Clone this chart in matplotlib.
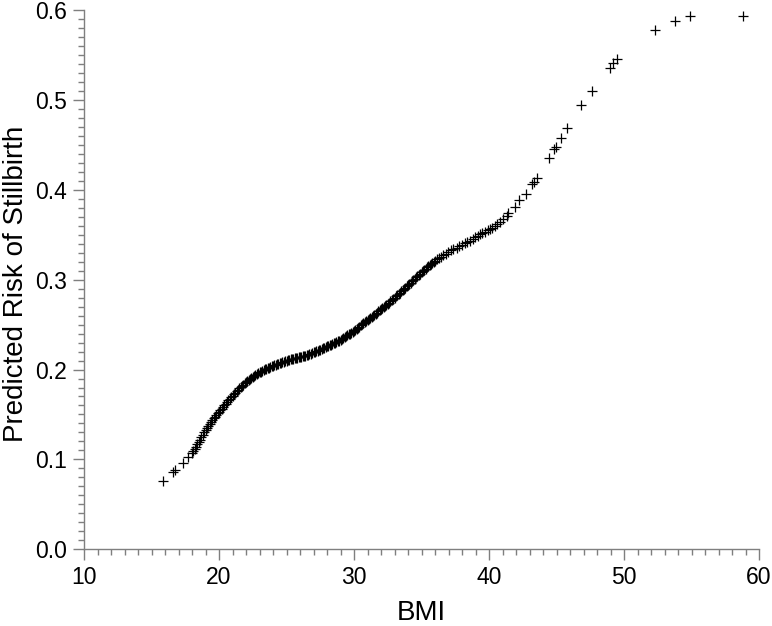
import matplotlib
matplotlib.use("Agg")
import matplotlib.pyplot as plt
from matplotlib.ticker import MultipleLocator, FormatStrFormatter

plt.rcParams['font.family'] = ['Liberation Sans', 'DejaVu Sans']

bmi = [15.88, 16.62, 16.74, 17.31, 17.73,
       18.0, 18.1, 18.2, 18.3, 18.4, 18.5, 18.6, 18.7, 18.8, 18.9,
       19.0, 19.1, 19.2, 19.3, 19.4, 19.5, 19.6, 19.7, 19.8, 19.9,
       20.0, 20.1, 20.2, 20.3, 20.4, 20.5, 20.6, 20.7, 20.8, 20.9,
       21.0, 21.1, 21.2, 21.3, 21.4, 21.5, 21.6, 21.7, 21.8, 21.9,
       22.0, 22.1, 22.2, 22.3, 22.4, 22.5, 22.6, 22.7, 22.8, 22.9,
       23.0, 23.1, 23.2, 23.3, 23.4, 23.5, 23.6, 23.7, 23.8, 23.9,
       24.0, 24.1, 24.2, 24.3, 24.4, 24.5, 24.6, 24.7, 24.8, 24.9,
       25.0, 25.1, 25.2, 25.3, 25.4, 25.5, 25.6, 25.7, 25.8, 25.9,
       26.0, 26.1, 26.2, 26.3, 26.4, 26.5, 26.6, 26.7, 26.8, 26.9,
       27.0, 27.1, 27.2, 27.3, 27.4, 27.5, 27.6, 27.7, 27.8, 27.9,
       28.0, 28.1, 28.2, 28.3, 28.4, 28.5, 28.6, 28.7, 28.8, 28.9,
       29.0, 29.1, 29.2, 29.3, 29.4, 29.5, 29.6, 29.7, 29.8, 29.9,
       30.0, 30.1, 30.2, 30.3, 30.4, 30.5, 30.6, 30.7, 30.8, 30.9,
       31.0, 31.1, 31.2, 31.3, 31.4, 31.5, 31.6, 31.7, 31.8, 31.9,
       32.0, 32.1, 32.2, 32.3, 32.4, 32.5, 32.6, 32.7, 32.8, 32.9,
       33.0, 33.1, 33.2, 33.3, 33.4, 33.5, 33.6, 33.7, 33.8, 33.9,
       34.0, 34.1, 34.2, 34.3, 34.4, 34.5, 34.6, 34.7, 34.8, 34.9,
       35.0, 35.1, 35.2, 35.3, 35.4, 35.5, 35.6, 35.7, 35.8, 35.9,
       36.0, 36.13, 36.3, 36.45, 36.62, 36.8, 36.99, 37.2, 37.36, 37.6, 37.8, 38.0,
       38.22, 38.4, 38.59, 38.8, 38.96, 39.15, 39.33, 39.5, 39.7, 39.9, 40.07, 40.25,
       40.44, 40.6, 40.81, 41.0, 41.31, 41.43, 41.93, 42.24, 42.72, 43.19, 43.36, 43.53,
       44.44, 44.84, 44.96, 45.33, 45.80, 46.81, 47.61, 48.96, 49.21, 49.46,
       52.32, 53.78, 54.89, 58.79]

risk = [0.0764, 0.0864, 0.0882, 0.0964, 0.1024,
        0.107, 0.1094, 0.1118, 0.1142, 0.1166, 0.119, 0.1218, 0.1246, 0.1274, 0.1302,
        0.133, 0.1352, 0.1374, 0.1396, 0.1418, 0.144, 0.1458, 0.1476, 0.1494, 0.1512,
        0.153, 0.1548, 0.1566, 0.1584, 0.1602, 0.162, 0.1638, 0.1656, 0.1674, 0.1692,
        0.171, 0.1726, 0.1742, 0.1758, 0.1774, 0.179, 0.1804, 0.1818, 0.1832, 0.1846,
        0.186, 0.1872, 0.1884, 0.1896, 0.1908, 0.192, 0.193, 0.194, 0.195, 0.196,
        0.197, 0.1978, 0.1986, 0.1994, 0.2002, 0.201, 0.2016, 0.2022, 0.2028, 0.2034,
        0.204, 0.2046, 0.2052, 0.2058, 0.2064, 0.207, 0.2076, 0.2082, 0.2088, 0.2094,
        0.210, 0.2104, 0.2108, 0.2112, 0.2116, 0.212, 0.2124, 0.2128, 0.2132, 0.2136,
        0.214, 0.2144, 0.2148, 0.2152, 0.2156, 0.216, 0.2166, 0.2172, 0.2178, 0.2184,
        0.219, 0.2196, 0.2202, 0.2208, 0.2214, 0.222, 0.2228, 0.2236, 0.2244, 0.2252,
        0.226, 0.2266, 0.2272, 0.2278, 0.2284, 0.229, 0.2298, 0.2306, 0.2314, 0.2322,
        0.233, 0.234, 0.235, 0.236, 0.237, 0.238, 0.239, 0.240, 0.241, 0.242,
        0.243, 0.2442, 0.2454, 0.2466, 0.2478, 0.249, 0.2502, 0.2514, 0.2526, 0.2538,
        0.255, 0.2562, 0.2574, 0.2586, 0.2598, 0.261, 0.2622, 0.2634, 0.2646, 0.2658,
        0.267, 0.2682, 0.2694, 0.2706, 0.2718, 0.273, 0.2744, 0.2758, 0.2772, 0.2786,
        0.280, 0.2814, 0.2828, 0.2842, 0.2856, 0.287, 0.2884, 0.2898, 0.2912, 0.2926,
        0.294, 0.2954, 0.2968, 0.2982, 0.2996, 0.301, 0.3024, 0.3038, 0.3052, 0.3066,
        0.308, 0.3094, 0.3108, 0.3122, 0.3136, 0.315, 0.3161, 0.3172, 0.3183, 0.3194,
        0.3205, 0.3225, 0.324, 0.3255, 0.327, 0.329, 0.331, 0.3325, 0.334, 0.3355, 0.337, 0.339,
        0.3405, 0.342, 0.343, 0.345, 0.347, 0.349, 0.3505, 0.352, 0.3534, 0.355, 0.356, 0.358,
        0.360, 0.362, 0.3646, 0.367, 0.3712, 0.3739, 0.3806, 0.3887, 0.3954, 0.4062, 0.4091, 0.4132,
        0.4351, 0.4451, 0.4480, 0.4574, 0.4692, 0.4941, 0.5104, 0.5359, 0.5408, 0.5453,
        0.5782, 0.5879, 0.5935, 0.5935]

x_ticks = [10, 20, 30, 40, 50, 60]
y_ticks = [0.0, 0.1, 0.2, 0.3, 0.4, 0.5, 0.6]

fig = plt.figure(figsize=(7.72, 6.26), dpi=100)
ax = fig.add_axes([84/772, 1-549.3/626, (759-84)/772, (549.3-10)/626])

ax.plot(bmi, risk, linestyle='none', marker='+', markersize=7,
        markeredgewidth=0.9, color='black', clip_on=False)

ax.set_xlim(10, 60)
ax.set_ylim(0, 0.6)
ax.set_xticks(x_ticks)
ax.set_yticks(y_ticks)
ax.xaxis.set_minor_locator(MultipleLocator(1))
ax.yaxis.set_minor_locator(MultipleLocator(0.01))
ax.yaxis.set_major_formatter(FormatStrFormatter('%.1f'))

for s in ['top', 'right']:
    ax.spines[s].set_visible(False)
for s in ['left', 'bottom']:
    ax.spines[s].set_color('#7f7f7f')
    ax.spines[s].set_linewidth(1.0)

ax.tick_params(which='major', direction='out', length=8, width=1.0, color='#7f7f7f',
               labelsize=16.5, labelcolor='black', pad=4)
ax.tick_params(which='minor', direction='out', length=4, width=1.0, color='#7f7f7f')

ax.set_xlabel('BMI', fontsize=20, labelpad=8)
fig.text(16/772, 1 - 284/626, 'Predicted Risk of Stillbirth', fontsize=20,
         rotation=90, ha='center', va='center')

fig.savefig('out.png', dpi=100)
